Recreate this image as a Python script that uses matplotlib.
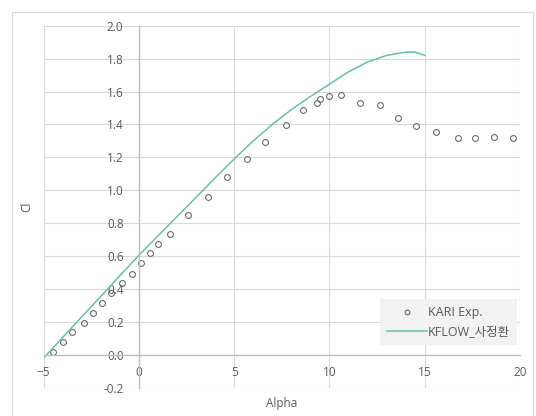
import numpy as np
import matplotlib
matplotlib.use('Agg')
import matplotlib.pyplot as plt
from matplotlib.patches import Rectangle

plt.rcParams['font.family'] = ['Open Sans', 'Noto Sans CJK KR', 'DejaVu Sans']

# KARI experiment (circles)
alpha_exp = [-4.48, -3.97, -3.48, -2.87, -2.40, -1.93, -1.45, -0.89, -0.38, 0.10,
             0.61, 1.00, 1.61, 2.59, 3.62, 4.62, 5.70, 6.61, 7.71, 8.62,
             9.34, 9.53, 10.0, 10.6, 11.58, 12.63, 13.62, 14.52, 15.6, 16.74,
             17.63, 18.62, 19.62]
cl_exp = [0.018, 0.075, 0.136, 0.195, 0.255, 0.316, 0.375, 0.438, 0.49, 0.556,
          0.616, 0.671, 0.732, 0.851, 0.960, 1.080, 1.19, 1.295, 1.398, 1.486,
          1.530, 1.553, 1.573, 1.579, 1.528, 1.518, 1.437, 1.392, 1.354, 1.317,
          1.317, 1.325, 1.317]

# KFLOW computation (line)
alpha_cfd = [-5, -4, -3, -2, -1, 0, 1, 2, 3, 4, 5, 6, 7, 8, 9, 10, 11, 12, 13, 14, 14.5, 15]
cl_cfd = [-0.02, 0.105, 0.23, 0.355, 0.48, 0.605, 0.722, 0.84, 0.957, 1.075, 1.19, 1.30,
          1.40, 1.49, 1.57, 1.645, 1.72, 1.78, 1.82, 1.84, 1.84, 1.82]

txt = '#595959'
fig = plt.figure(figsize=(5.36, 4.16), dpi=100)
fig.patches.append(Rectangle((12/536, -0.1), (533-12)/536, 1.1 - 12/416,
                             transform=fig.transFigure, fill=False,
                             edgecolor='#D9D9D9', linewidth=0.8))
ax = fig.add_axes([0.0812, 0.068, 0.889, 0.870])

ax.plot(alpha_exp, cl_exp, 'o', markersize=4.2, markerfacecolor='none',
        markeredgecolor='#6b6b6b', markeredgewidth=0.8, label='KARI Exp.')
ax.plot(alpha_cfd, cl_cfd, '-', color='#62c2a4', linewidth=1.1, label='KFLOW_사정환')

ax.set_xlim(-5, 20)
ax.set_ylim(-0.2, 2.0)
ax.set_xticks(np.arange(-5, 21, 5))
ax.set_yticks(np.arange(-0.2, 2.01, 0.2))
ax.set_yticklabels(['%.1f' % v for v in np.arange(-0.2, 2.01, 0.2)])

ax.grid(True, color='#D9D9D9', linewidth=0.8)
for gl in ax.get_xgridlines() + ax.get_ygridlines():
    gl.set_clip_on(False)
ax.set_axisbelow(True)

for s in ['top', 'right']:
    ax.spines[s].set_visible(False)
ax.spines['left'].set_position(('data', 0))
ax.spines['bottom'].set_position(('data', 0))
ax.spines['left'].set_color('#BFBFBF')
ax.spines['bottom'].set_color('#BFBFBF')
ax.spines['left'].set_linewidth(1.0)
ax.spines['bottom'].set_linewidth(1.0)

ax.tick_params(axis='both', length=0, labelsize=8.5, labelcolor=txt)
ax.tick_params(axis='y', pad=11)
ax.tick_params(axis='x', pad=8)

ax.set_xlabel('Alpha', fontsize=8.5, color=txt)
ax.set_ylabel('Cl', fontsize=8.5, color=txt)
ax.xaxis.set_label_coords(0.5, -0.026)
ax.yaxis.set_label_coords(-0.022, 0.5)

leg = ax.legend(loc='lower right', bbox_to_anchor=(0.994, 0.118), borderaxespad=0,
                frameon=True, fancybox=False, facecolor='#F2F2F2', edgecolor='none',
                framealpha=1, fontsize=9, handlelength=3.2, labelspacing=0.5,
                borderpad=0.55, handletextpad=0.1, markerscale=0.8)
for t in leg.get_texts():
    t.set_color(txt)

fig.savefig('out.png', dpi=100)
